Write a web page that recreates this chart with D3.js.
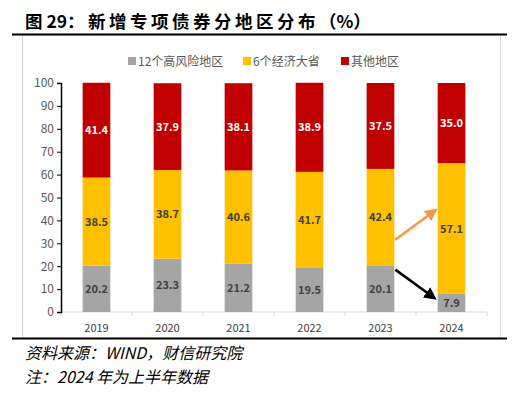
<!DOCTYPE html>
<html>
<head>
<meta charset="utf-8">
<script src="https://cdn.jsdelivr.net/npm/d3@7"></script>
<style>
  body { margin: 0; background: #fff; }
  svg text { font-family: "Noto Sans CJK SC", "Noto Sans", sans-serif; }
</style>
</head>
<body>
<div id="chart"></div>
<script>
const years = ["2019", "2020", "2021", "2022", "2023", "2024"];
const seriesNames = ["12个高风险地区", "6个经济大省", "其他地区"];
const highRisk = [20.2, 23.3, 21.2, 19.5, 20.1, 7.9];
const bigSix = [38.5, 38.7, 40.6, 41.7, 42.4, 57.1];
const others = [41.4, 37.9, 38.1, 38.9, 37.5, 35.0];
const yTicks = [0, 10, 20, 30, 40, 50, 60, 70, 80, 90, 100];
const colors = ["#A5A5A5", "#FFC000", "#C00000"];
const labelColors = ["#404040", "#404040", "#ffffff"];

const width = 526, height = 393;
const margin = { top: 83, right: 39, bottom: 81, left: 61 };

const svg = d3.select("#chart").append("svg")
  .attr("width", width).attr("height", height);

// title and frame
const title = svg.append("text")
  .attr("x", 25).attr("y", 28)
  .attr("font-size", 17.5).attr("font-weight", 700).attr("fill", "#000");
title.append("tspan").text("图 29：");
title.append("tspan").attr("x", 88).attr("letter-spacing", 3.5).text("新增专项债券分地区分布");
title.append("tspan").attr("letter-spacing", 0).text("（%）");
svg.append("rect")
  .attr("x", 22.5).attr("y", 35).attr("width", 478).attr("height", 303)
  .attr("fill", "none").attr("stroke", "#d9d9d9");
svg.append("line").attr("x1", 12).attr("x2", 507).attr("y1", 34.5).attr("y2", 34.5)
  .attr("stroke", "#000").attr("stroke-width", 2);
svg.append("line").attr("x1", 12).attr("x2", 507).attr("y1", 338.5).attr("y2", 338.5)
  .attr("stroke", "#000").attr("stroke-width", 2);

const x = d3.scaleBand().domain(years)
  .range([margin.left, width - margin.right]).paddingInner(0.61).paddingOuter(0.305);
const y = d3.scaleLinear().domain([0, 100]).range([height - margin.bottom, margin.top]);

// stacked data
const rows = years.map((yr, i) => ({ year: yr, s0: highRisk[i], s1: bigSix[i], s2: others[i] }));
const stack = d3.stack().keys(["s0", "s1", "s2"])(rows);

// x axis
const xAxis = svg.append("g")
  .attr("transform", `translate(0,${y(0)})`);
xAxis.append("line").attr("x1", margin.left).attr("x2", width - margin.right)
  .attr("stroke", "#d9d9d9");
const step = x.step();
d3.range(years.length + 1).forEach(i => {
  const xx = margin.left + i * step;
  xAxis.append("line").attr("x1", xx).attr("x2", xx).attr("y1", 0).attr("y2", 4)
    .attr("stroke", "#d9d9d9");
});
xAxis.selectAll("text.xl").data(years).join("text")
  .attr("class", "xl")
  .attr("x", d => x(d) + x.bandwidth() / 2).attr("y", 20)
  .attr("text-anchor", "middle").attr("font-size", 11).attr("fill", "#404040")
  .text(d => d);

// y axis
const yAxis = svg.append("g")
  .attr("transform", `translate(${margin.left},0)`)
  .call(d3.axisLeft(y).tickValues(yTicks).tickSize(4).tickPadding(3));
yAxis.select(".domain").attr("stroke", "#000").attr("stroke-width", 1.5);
yAxis.selectAll(".tick line").attr("stroke", "#000");
yAxis.selectAll(".tick text").attr("font-size", 12).attr("fill", "#595959")
  .attr("font-family", "'Noto Sans', sans-serif");

// bars
const layers = svg.append("g").selectAll("g").data(stack).join("g")
  .attr("fill", (d, i) => colors[i]);
layers.selectAll("rect").data(d => d).join("rect")
  .attr("x", d => x(d.data.year))
  .attr("width", x.bandwidth())
  .attr("y", d => y(d[1]))
  .attr("height", d => y(d[0]) - y(d[1]));

// value labels
stack.forEach((layer, li) => {
  svg.append("g").selectAll("text").data(layer).join("text")
    .attr("x", d => x(d.data.year) + x.bandwidth() / 2)
    .attr("y", d => (y(d[0]) + y(d[1])) / 2 + 4)
    .attr("text-anchor", "middle").attr("font-size", 11).attr("font-weight", 700)
    .attr("fill", labelColors[li])
    .text(d => (d[1] - d[0]).toFixed(1));
});

// legend
const legendX = [128, 243, 341];
const legend = svg.append("g").selectAll("g").data(seriesNames).join("g")
  .attr("transform", (d, i) => `translate(${legendX[i]},61)`);
legend.append("rect").attr("x", 0).attr("y", -4).attr("width", 8).attr("height", 8)
  .attr("fill", (d, i) => colors[i]);
legend.append("text").attr("x", 10).attr("y", 4.5)
  .attr("font-size", 12).attr("fill", "#595959").text(d => d);

// arrows
const defs = svg.append("defs");
[["arrOrange", "#F79646"], ["arrBlack", "#000"]].forEach(([id, c]) => {
  defs.append("marker").attr("id", id).attr("viewBox", "0 0 10 10")
    .attr("refX", 8).attr("refY", 5).attr("markerWidth", 5).attr("markerHeight", 5)
    .attr("orient", "auto")
    .append("path").attr("d", "M0,0 L10,5 L0,10 Z").attr("fill", c);
});
const x23 = x("2023") + x.bandwidth(), x24 = x("2024");
svg.append("line")
  .attr("x1", x23 + 1).attr("y1", y(31.5))
  .attr("x2", x24 - 2).attr("y2", y(44.5))
  .attr("stroke", "#F79646").attr("stroke-width", 2.5)
  .attr("marker-end", "url(#arrOrange)");
svg.append("line")
  .attr("x1", x23 + 1).attr("y1", y(18.5))
  .attr("x2", x24 - 3).attr("y2", y(6))
  .attr("stroke", "#000").attr("stroke-width", 2.5)
  .attr("marker-end", "url(#arrBlack)");

// footer
const foot = svg.append("g").attr("font-style", "italic").attr("font-size", 16).attr("fill", "#000")
  .attr("font-family", "'Liberation Serif', 'Noto Sans CJK SC', serif");
foot.append("text").attr("x", 25).attr("y", 359)
  .text("资料来源：WIND，财信研究院");
foot.append("text").attr("x", 25).attr("y", 383)
  .text("注：2024 年为上半年数据");
</script>
</body>
</html>
